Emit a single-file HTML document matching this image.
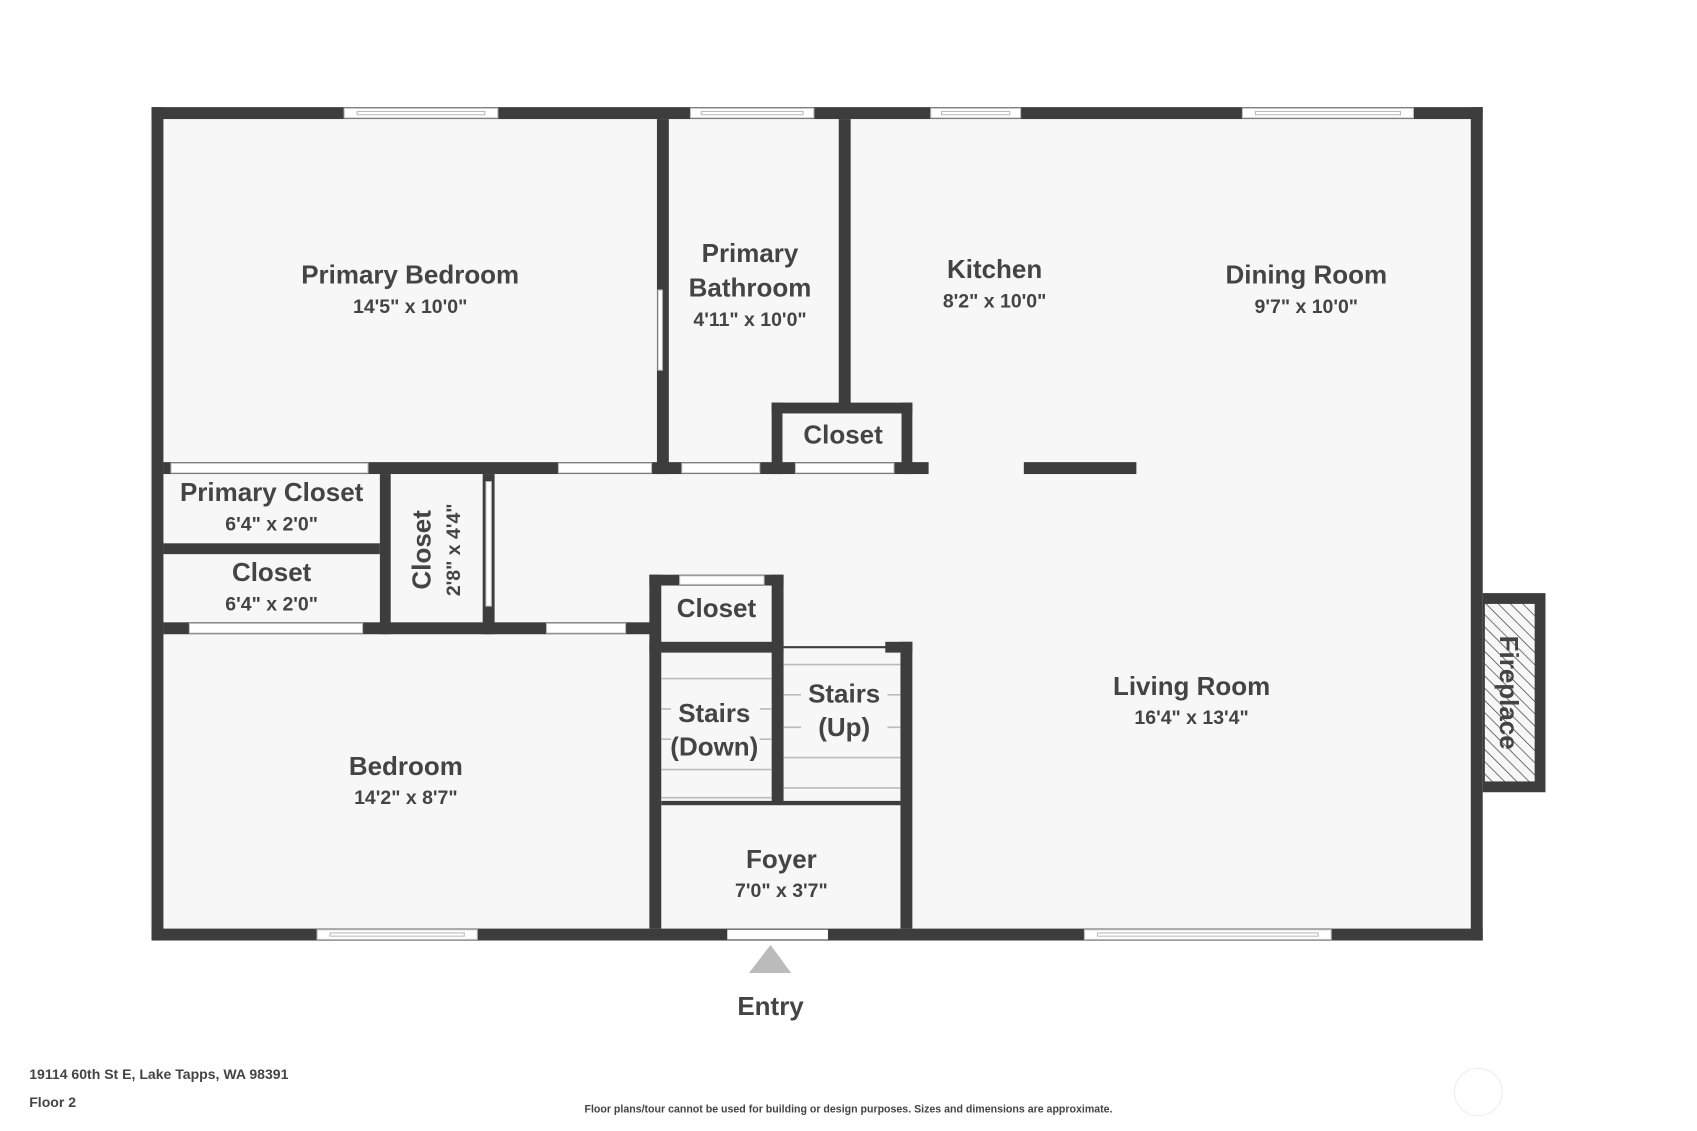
<!DOCTYPE html>
<html><head><meta charset="utf-8"><style>
html,body{margin:0;padding:0;background:#fff;}
svg{display:block;}
text{font-family:"Liberation Sans",sans-serif;font-weight:bold;fill:#444;text-anchor:middle;}
.n{font-size:24px;}
.d{font-size:18px;}
</style></head><body>
<svg width="1697" height="1131" viewBox="0 0 1568 1045" preserveAspectRatio="none" xmlns="http://www.w3.org/2000/svg">
<rect x="0" y="0" width="1568" height="1045" fill="#fff"/>
<rect x="140" y="99" width="1230" height="770" fill="#f7f7f7"/>
<g fill="#3d3d3d">
<rect x="140" y="99" width="1230" height="11"/>
<rect x="140" y="858" width="1230" height="11"/>
<rect x="140" y="99" width="11" height="770"/>
<rect x="1359" y="99" width="11" height="770"/>
<rect x="607" y="110" width="11" height="328"/>
<rect x="775" y="110" width="11" height="265"/>
<rect x="713" y="372" width="130" height="10"/>
<rect x="713" y="372" width="10" height="66"/>
<rect x="833" y="372" width="10" height="66"/>
<rect x="151" y="427" width="707" height="11"/>
<rect x="946" y="427" width="104" height="11"/>
<rect x="351" y="438" width="10" height="148"/>
<rect x="151" y="502" width="200" height="10"/>
<rect x="446" y="438" width="11" height="148"/>
<rect x="151" y="575" width="459" height="11"/>
<rect x="600" y="531" width="124" height="10"/>
<rect x="600" y="531" width="11" height="327"/>
<rect x="713" y="531" width="11" height="211"/>
<rect x="600" y="593" width="124" height="10"/>
<rect x="832" y="593" width="11" height="265"/>
<rect x="818" y="593" width="25" height="10"/>
<rect x="611" y="740" width="221" height="4"/>
<rect x="1370" y="548" width="58" height="184"/>
</g>
<g fill="#fff" stroke="#bbb" stroke-width="1">
<rect x="318" y="100" width="142" height="9"/><rect x="330" y="103" width="118" height="3"/>
<rect x="638" y="100" width="114" height="9"/><rect x="648" y="103" width="94" height="3"/>
<rect x="860" y="100" width="83" height="9"/><rect x="870" y="103" width="63" height="3"/>
<rect x="1148" y="100" width="158" height="9"/><rect x="1160" y="103" width="134" height="3"/>
<rect x="293" y="859" width="148" height="9"/><rect x="305" y="862" width="124" height="3"/>
<rect x="1002" y="859" width="228" height="9"/><rect x="1014" y="862" width="204" height="3"/>
<rect x="672" y="859" width="93" height="9" stroke="none"/>
<rect x="608" y="268" width="4" height="74"/>
<rect x="158" y="428" width="182" height="9"/>
<rect x="516" y="428" width="86" height="9"/>
<rect x="630" y="428" width="72" height="9"/>
<rect x="735" y="428" width="91" height="9"/>
<rect x="449" y="445" width="5" height="115"/>
<rect x="175" y="576" width="160" height="9"/>
<rect x="505" y="576" width="73" height="9"/>
<rect x="628" y="532" width="78" height="8"/>
</g>
<g stroke="#bbb" stroke-width="1.5">
<line x1="611" y1="627" x2="713" y2="627"/><line x1="611" y1="655" x2="713" y2="655"/>
<line x1="611" y1="683" x2="713" y2="683"/><line x1="611" y1="711" x2="713" y2="711"/>
<line x1="611" y1="737" x2="713" y2="737"/>
<line x1="724" y1="614" x2="832" y2="614"/><line x1="724" y1="642" x2="832" y2="642"/>
<line x1="724" y1="672" x2="832" y2="672"/><line x1="724" y1="700" x2="832" y2="700"/>
<line x1="724" y1="728" x2="832" y2="728"/>
</g>
<line x1="724" y1="598" x2="820" y2="598" stroke="#3d3d3d" stroke-width="2"/>
<defs><pattern id="h" width="8" height="8" patternUnits="userSpaceOnUse" patternTransform="rotate(-45)"><rect width="8" height="8" fill="#f7f7f7"/><line x1="0" y1="0" x2="0" y2="8" stroke="#555" stroke-width="1.5"/></pattern></defs>
<rect x="1372" y="558" width="46" height="164" fill="url(#h)"/>
<g>
<rect x="745" y="385" width="74" height="30" fill="#f7f7f7"/>
<rect x="620" y="645" width="82" height="62" fill="#f7f7f7"/>
<rect x="740" y="628" width="80" height="60" fill="#f7f7f7"/>
<text class="n" x="379" y="262">Primary Bedroom</text><text class="d" x="379" y="289">14'5" x 10'0"</text>
<text class="n" x="693" y="242">Primary</text><text class="n" x="693" y="274">Bathroom</text><text class="d" x="693" y="301">4'11" x 10'0"</text>
<text class="n" x="919" y="257">Kitchen</text><text class="d" x="919" y="284">8'2" x 10'0"</text>
<text class="n" x="1207" y="262">Dining Room</text><text class="d" x="1207" y="289">9'7" x 10'0"</text>
<text class="n" x="779" y="410">Closet</text>
<text class="n" x="251" y="463">Primary Closet</text><text class="d" x="251" y="490">6'4" x 2'0"</text>
<text class="n" x="251" y="537">Closet</text><text class="d" x="251" y="564">6'4" x 2'0"</text>
<text class="n" transform="translate(398,508) rotate(-90)">Closet</text>
<text class="d" transform="translate(425,508) rotate(-90)">2'8" x 4'4"</text>
<text class="n" x="662" y="570">Closet</text>
<text class="n" x="660" y="667">Stairs</text><text class="n" x="660" y="698">(Down)</text>
<text class="n" x="780" y="649">Stairs</text><text class="n" x="780" y="680">(Up)</text>
<text class="n" x="1101" y="642">Living Room</text><text class="d" x="1101" y="669">16'4" x 13'4"</text>
<text class="n" x="375" y="716">Bedroom</text><text class="d" x="375" y="743">14'2" x 8'7"</text>
<text class="n" x="722" y="802">Foyer</text><text class="d" x="722" y="829">7'0" x 3'7"</text>
<text class="n" transform="translate(1386,640) rotate(90)">Fireplace</text>
<text class="n" x="712" y="938">Entry</text>
</g>
<polygon points="692,899 731,899 712,873" fill="#bbb"/>
<text x="27" y="997" style="font-size:13px;text-anchor:start;">19114 60th St E, Lake Tapps, WA 98391</text>
<text x="27" y="1023" style="font-size:13px;text-anchor:start;">Floor 2</text>
<text x="784" y="1028" style="font-size:9.8px;">Floor plans/tour cannot be used for building or design purposes. Sizes and dimensions are approximate.</text>
<circle cx="1366" cy="1009" r="22" fill="none" stroke="#eee" stroke-width="1"/>
</svg>
</body></html>
